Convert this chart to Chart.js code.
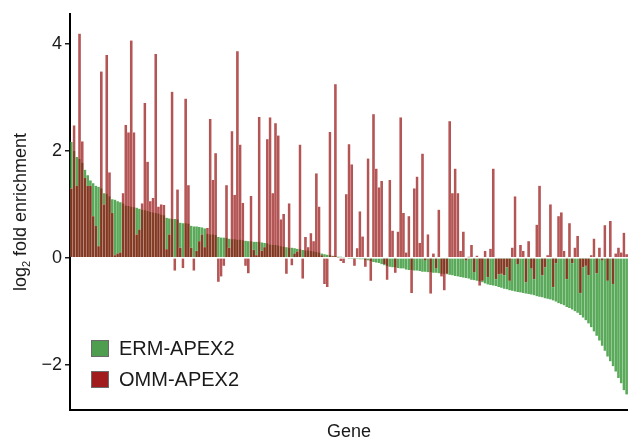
<!DOCTYPE html>
<html>
<head>
<meta charset="utf-8">
<script src="https://cdn.jsdelivr.net/npm/chart.js@4.4.0/dist/chart.umd.min.js"></script>
<style>
  html, body { margin: 0; padding: 0; background: #fff; }
  #wrap { width: 628px; height: 438px; }
</style>
</head>
<body>
<div id="wrap"><canvas id="chart" width="628" height="438"></canvas></div>
<script>
// log2 fold enrichment per gene, genes sorted by ERM value
const ermValues = [
  2.17, 2.0, 1.89, 1.85, 1.78, 1.65, 1.55, 1.45, 1.4, 1.35,
  1.33, 1.3, 1.21, 1.2, 1.15, 1.1, 1.09, 1.06, 1.04, 1.02,
  0.98, 0.97, 0.96, 0.95, 0.94, 0.92, 0.9, 0.89, 0.88, 0.86,
  0.85, 0.84, 0.83, 0.81, 0.8, 0.75, 0.74, 0.73, 0.73, 0.72,
  0.66, 0.65, 0.65, 0.64, 0.6, 0.59, 0.59, 0.58, 0.57, 0.55,
  0.45, 0.44, 0.44, 0.43, 0.39, 0.38, 0.38, 0.37, 0.36, 0.35,
  0.35, 0.34, 0.34, 0.33, 0.32, 0.31, 0.31, 0.3, 0.3, 0.3,
  0.29, 0.28, 0.27, 0.25, 0.24, 0.24, 0.23, 0.22, 0.21, 0.2,
  0.19, 0.19, 0.18, 0.17, 0.16, 0.15, 0.14, 0.14, 0.13, 0.12,
  0.11, 0.1, 0.08, 0.07, 0.06, 0.05, 0.04, 0.03, 0.02, 0.02,
  0.01, 0.0, -0.01, -0.01, -0.02, -0.02, -0.03, -0.03, -0.04, -0.05,
  -0.06, -0.08, -0.09, -0.1, -0.12, -0.14, -0.16, -0.17, -0.18, -0.18,
  -0.19, -0.2, -0.2, -0.22, -0.23, -0.23, -0.24, -0.24, -0.25, -0.26,
  -0.26, -0.27, -0.27, -0.28, -0.28, -0.29, -0.3, -0.3, -0.31, -0.32,
  -0.33, -0.34, -0.35, -0.36, -0.37, -0.38, -0.39, -0.41, -0.42, -0.43,
  -0.44, -0.46, -0.48, -0.5, -0.51, -0.52, -0.53, -0.55, -0.56, -0.58,
  -0.59, -0.61, -0.62, -0.63, -0.64, -0.65, -0.66, -0.67, -0.68, -0.69,
  -0.7, -0.72, -0.73, -0.74, -0.76, -0.77, -0.78, -0.8, -0.82, -0.85,
  -0.87, -0.89, -0.92, -0.94, -0.97, -1.0, -1.03, -1.07, -1.12, -1.17,
  -1.23, -1.3, -1.38, -1.46, -1.55, -1.65, -1.74, -1.85, -1.94, -2.03,
  -2.13, -2.25, -2.35, -2.48, -2.56
];

const ommValues = [
  1.3, 2.48, 1.35, 4.2, 2.18, 1.5, 1.35, 1.35, 0.78, 0.6,
  0.22, 3.49, 1.0, 3.8, 1.6, 0.84, 0.05, 0.08, 0.1, 1.21,
  2.49, 2.35, 4.07, 2.35, 0.44, 0.53, 1.02, 2.9, 1.8, 1.06,
  1.12, 3.82, 0.96, 1.0, 0.99, 0.16, 0.44, 3.11, -0.24, 1.28,
  0.19, -0.19, 2.98, 1.36, 0.19, -0.24, 0.13, 0.31, 0.44, 0.2,
  0.56, 2.6, 1.46, 1.96, -0.45, -0.35, -0.15, 1.36, 0.19, 2.37,
  1.18, 3.87, 2.12, 1.03, -0.15, -0.29, 1.16, 0.15, 0.05, 2.64,
  0.13, 0.2, 2.22, 2.63, 1.21, 2.52, 2.29, 0.72, 0.82, -0.3,
  1.02, -0.14, 0.08, 0.12, 2.12, -0.39, 0.39, 0.2, 0.46, 0.31,
  1.58, 0.96, 0.05, -0.49, -0.55, 2.36, 0.03, 3.25, 0.01, -0.06,
  -0.1, 1.19, 2.13, 1.75, -0.15, 0.18, 0.87, 0.4, -0.17, 1.86,
  -0.43, 2.69, 1.67, 1.32, 1.44, -0.12, -0.41, 1.46, 0.51, -0.28,
  0.49, 2.63, 0.84, 0.1, 0.78, -0.66, 1.3, 1.52, 0.28, 1.95,
  -0.05, 0.44, -0.67, 0.08, -0.2, 0.9, -0.35, -0.61, -0.3, 2.56,
  1.21, 1.67, 1.21, 0.13, 0.49, -0.05, 0.02, 0.24, -0.27, 0.04,
  -0.52, -0.43, 0.13, -0.36, 0.17, 1.67, -0.4, -0.31, -0.3, -0.33,
  -0.18, -0.43, 0.19, 1.15, -0.12, 0.24, 0.13, -0.46, 0.31, -0.2,
  -0.4, 0.62, 1.35, -0.33, -0.18, 0.05, 1.0, -0.55, -0.1, 0.78,
  0.85, 0.13, -0.4, 0.65, -0.1, 0.19, 0.41, -0.66, -0.18, -0.15,
  -0.33, 0.05, 0.36, -0.29, 0.19, -0.05, 0.61, -0.43, 0.69, -0.49,
  0.08, 0.19, 0.1, 0.47, 0.07
];

const seriesNames = ["ERM-APEX2", "OMM-APEX2"];
const yTicks = [-2, 0, 2, 4];
const xTitle = "Gene";
const genes = ermValues.map((_, i) => "gene" + (i + 1));

const FONT = '"Liberation Sans", Arial, Helvetica, sans-serif';
const TEXT = "#1a1a1a";
const keyColors = ["#4f9d4f", "#a11d1d"];

// titles + legend drawn by hand (legend sits inside the plot, y title has a subscript)
const annotate = {
  id: "annotate",
  afterDraw(chart) {
    const { ctx, chartArea } = chart;
    ctx.save();
    ctx.fillStyle = TEXT;

    // x title
    ctx.font = "18px " + FONT;
    ctx.textAlign = "center";
    ctx.textBaseline = "alphabetic";
    ctx.fillText(xTitle, (chartArea.left + chartArea.right) / 2, 437);

    // y title: log2 fold enrichment
    ctx.save();
    ctx.translate(26, 212);
    ctx.rotate(-Math.PI / 2);
    ctx.textAlign = "left";
    const big = "18px " + FONT, small = "11px " + FONT;
    ctx.font = big;
    const wa = ctx.measureText("log").width;
    const wb = ctx.measureText(" fold enrichment").width;
    ctx.font = small;
    const ws = ctx.measureText("2").width;
    let x = -(wa + ws + wb) / 2;
    ctx.font = big; ctx.fillText("log", x, 0); x += wa;
    ctx.font = small; ctx.fillText("2", x, 4); x += ws;
    ctx.font = big; ctx.fillText(" fold enrichment", x, 0);
    ctx.restore();

    // legend
    seriesNames.forEach((name, i) => {
      const bx = chartArea.left + 21;
      const by = chartArea.bottom - 70 + i * 31;
      ctx.fillStyle = keyColors[i];
      ctx.fillRect(bx, by, 18, 17);
      ctx.strokeStyle = "#6b6b6b";
      ctx.lineWidth = 1;
      ctx.strokeRect(bx + 0.5, by + 0.5, 17, 16);
      ctx.fillStyle = TEXT;
      ctx.font = "20px " + FONT;
      ctx.textAlign = "left";
      ctx.textBaseline = "middle";
      ctx.fillText(name, bx + 28, by + 9);
    });
    ctx.restore();
  }
};

const chart = new Chart(document.getElementById("chart"), {
  type: "bar",
  data: {
    labels: genes,
    datasets: [
      {
        label: seriesNames[0],
        data: ermValues,
        backgroundColor: "rgba(34,139,34,0.74)",
        borderColor: "rgba(235,255,235,0.3)",
        borderWidth: 0.4,
        grouped: false,
        order: 2,
        barPercentage: 1,
        categoryPercentage: 1
      },
      {
        label: seriesNames[1],
        data: ommValues,
        backgroundColor: "rgba(139,0,0,0.66)",
        borderColor: "rgba(255,225,225,0.45)",
        borderWidth: 0.4,
        grouped: false,
        order: 1,
        barPercentage: 1,
        categoryPercentage: 1
      }
    ]
  },
  options: {
    responsive: false,
    animation: false,
    layout: { padding: { top: 10, right: 0, bottom: 0, left: 0 } },
    plugins: {
      legend: { display: false },
      tooltip: { enabled: false }
    },
    scales: {
      x: {
        type: "category",
        offset: true,
        grid: { display: false },
        ticks: { display: false },
        border: { display: true, color: "#000", width: 2 },
        afterFit: (s) => { s.height = 28; }
      },
      y: {
        min: -2.85,
        max: 4.57,
        afterBuildTicks: (s) => { s.ticks = yTicks.map(v => ({ value: v })); },
        grid: { drawOnChartArea: false, drawTicks: true, tickLength: 5, color: TEXT, lineWidth: 1.5 },
        border: { display: true, color: "#000", width: 2 },
        ticks: {
          color: TEXT,
          padding: 3,
          font: { family: FONT, size: 18 },
          callback: (v) => (v < 0 ? "\u2212" + Math.abs(v) : String(v))
        },
        afterFit: (s) => { s.width = 70; }
      }
    }
  },
  plugins: [annotate]
});
</script>
</body>
</html>
